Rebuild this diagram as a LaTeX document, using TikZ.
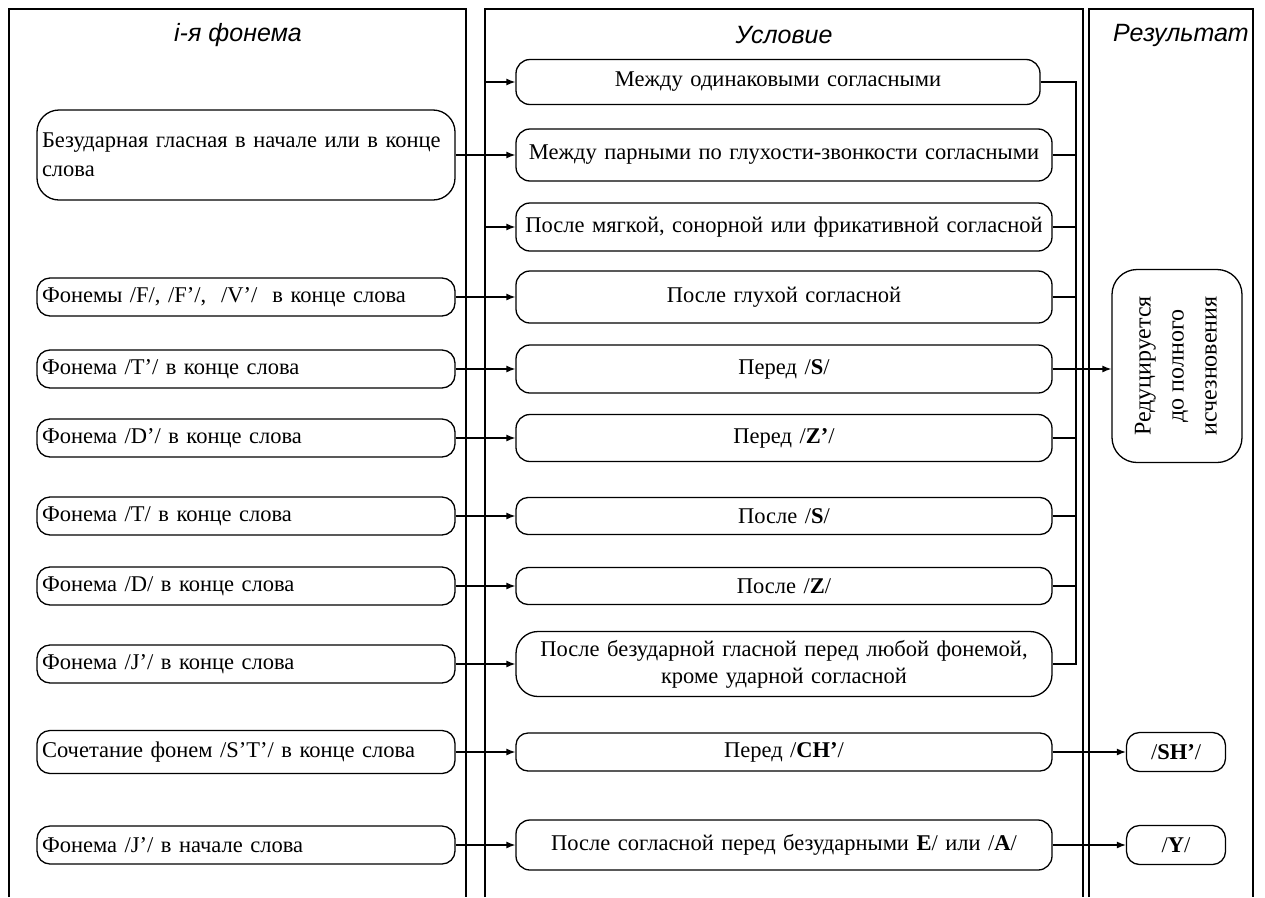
\documentclass[tikz,border=0pt]{standalone}
\usepackage{fontspec}
\usepackage{graphicx}
\setmainfont{Liberation Serif}
\newfontfamily\headfont{Liberation Sans}
\usetikzlibrary{arrows.meta}
\begin{document}
\begin{tikzpicture}[
  x=1pt, y=-1pt,
  >={Latex[length=9pt,width=7pt]},
  colframe/.style={draw=black, line width=1.3pt},
  colhead/.style={font={\headfont\itshape\fontsize{25}{29}\selectfont}},
  phnode/.style={draw=black, rounded corners=13pt, line width=1.3pt, text width=408pt, align=left, minimum height=38pt, inner sep=5pt, font={\fontsize{22.5}{29}\selectfont}},
  condnode/.style={draw=black, rounded corners=14pt, line width=1.3pt, text width=526pt, align=center, minimum height=46pt, inner sep=5pt, font={\fontsize{22.5}{29}\selectfont}},
  resnode/.style={draw=black, rounded corners=13pt, line width=1.3pt, minimum width=99pt, minimum height=39pt, inner sep=3pt, font={\fontsize{22.5}{26}\selectfont}},
  phedge/.style={->, line width=1.3pt},
  busline/.style={line width=1.3pt}
]
\fill[white] (0,0) rectangle (1265,897);
\useasboundingbox (0,0) rectangle (1265,897);
\draw[colframe] (9,897) -- (9,9) -- (466,9) -- (466,897);
\draw[colframe] (485,897) -- (485,9) -- (1083,9) -- (1083,897);
\draw[colframe] (1089,897) -- (1089,9) -- (1253,9) -- (1253,897);
\node[colhead] (h1) at (238,35) {i-я фонема};
\node[colhead] (h2) at (784,35) {Условие};
\node[colhead] (h3) at (1181,35) {Результат};
\node[phnode, minimum height=90pt, rounded corners=22pt] (p1) at (246,155) {Безударная гласная в начале или в конце\\слова};
\node[phnode] (p2) at (246,297) {Фонемы /F/, /F'/, \ /V'/ \ в конце слова};
\node[phnode] (p3) at (246,369) {Фонема /T'/ в конце слова};
\node[phnode] (p4) at (246,438) {Фонема /D'/ в конце слова};
\node[phnode] (p5) at (246,516) {Фонема /T/ в конце слова};
\node[phnode] (p6) at (246,586) {Фонема /D/ в конце слова};
\node[phnode] (p7) at (246,664) {Фонема /J'/ в конце слова};
\node[phnode, minimum height=43pt] (p8) at (246,752) {Сочетание фонем /S'T'/ в конце слова};
\node[phnode] (p9) at (246,845) {Фонема /J'/ в начале слова};
\node[condnode, text width=514pt, minimum height=45pt] (c1) at (778,82) {Между одинаковыми согласными};
\node[condnode, minimum height=52pt] (c2) at (784,155) {Между парными по глухости-звонкости согласными};
\node[condnode, minimum height=48pt] (c3) at (784,227) {После мягкой, сонорной или фрикативной согласной};
\node[condnode, minimum height=52pt] (c4) at (784,297) {После глухой согласной};
\node[condnode, minimum height=48pt] (c5) at (784,369) {Перед /\textbf{S}/};
\node[condnode, minimum height=47pt] (c6) at (784,438) {Перед /\textbf{Z'}/};
\node[condnode, minimum height=37pt, rounded corners=12pt] (c7) at (784,516) {После /\textbf{S}/};
\node[condnode, minimum height=37pt, rounded corners=12pt] (c8) at (784,586) {После /\textbf{Z}/};
\node[condnode, minimum height=65pt, rounded corners=22pt, font={\fontsize{22.5}{27}\selectfont}] (c9) at (784,664) {После безударной гласной перед любой фонемой,\\кроме ударной согласной};
\node[condnode, minimum height=38pt, rounded corners=12pt] (c10) at (784,752) {Перед /\textbf{CH'}/};
\node[condnode, minimum height=50pt] (c11) at (784,845) {После согласной перед безударными \textbf{E}/ или /\textbf{A}/};
\node[resnode, minimum width=130pt, minimum height=193pt, rounded corners=25pt, font={\fontsize{24}{33}\selectfont}] (r1) at (1177,366) {\rotatebox{90}{\begin{tabular}{@{}c@{}}Редуцируется\\до полного\\исчезновения\end{tabular}}};
\node[resnode] (r2) at (1176,752) {/\textbf{SH'}/};
\node[resnode] (r3) at (1176,845) {/\textbf{Y}/};
\coordinate (b1) at (485,82);
\coordinate (b3) at (485,227);
\coordinate (bus) at (1076,0);
\draw[phedge] (b1) -- (c1.west);
\draw[phedge] (p1.east) -- (c2.west);
\draw[phedge] (b3) -- (c3.west);
\draw[phedge] (p2.east) -- (c4.west);
\draw[phedge] (p3.east) -- (c5.west);
\draw[phedge] (p4.east) -- (c6.west);
\draw[phedge] (p5.east) -- (c7.west);
\draw[phedge] (p6.east) -- (c8.west);
\draw[phedge] (p7.east) -- (c9.west);
\draw[phedge] (p8.east) -- (c10.west);
\draw[phedge] (p9.east) -- (c11.west);
\draw[busline] (c1.east) -- (c1.east -| bus) -- (c9.east -| bus) -- (c9.east);
\foreach \i in {2,3,4,6,7,8}
  \draw[busline] (c\i.east) -- (c\i.east -| bus);
\draw[phedge] (c5.east) -- (c5.east -| r1.west);
\draw[phedge] (c10.east) -- (r2.west);
\draw[phedge] (c11.east) -- (r3.west);
\end{tikzpicture}
\end{document}
